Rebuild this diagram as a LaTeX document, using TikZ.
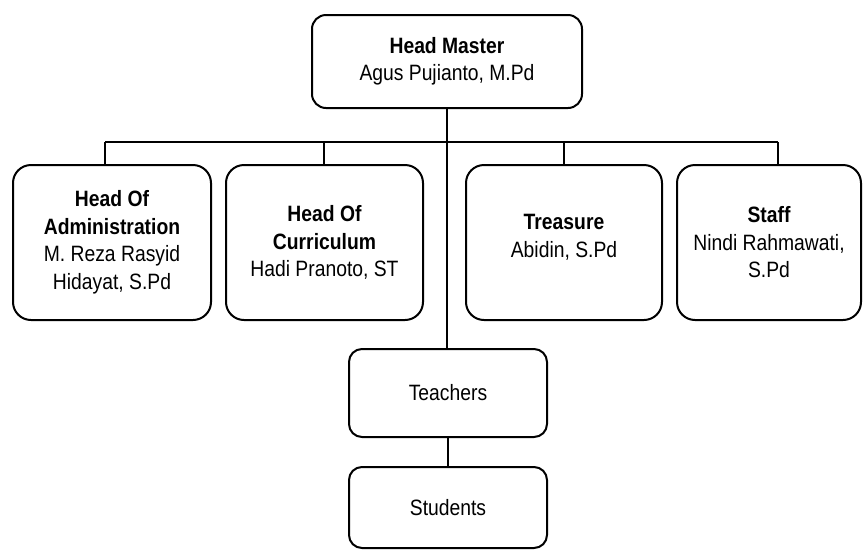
\documentclass[tikz,border=0pt]{standalone}
\usepackage{fontspec}
\setmainfont{Liberation Sans}[FakeStretch=0.87]
\begin{document}
\begin{tikzpicture}[x=1pt,y=-1pt,
  box/.style={draw=black, line width=2pt, rounded corners=#1, align=center, inner sep=0pt,
    font=\fontsize{22.2}{27.5}\selectfont},
  box/.default=18pt,
  conn/.style={draw=black, line width=2pt}]
\useasboundingbox (0,0) rectangle (863,550);
\node[box=14pt, minimum width=270pt, minimum height=93pt] (head) at (447,61.5)
  {\textbf{Head Master}\\Agus Pujianto, M.Pd};
\node[box, minimum width=198pt, minimum height=155pt] (adm) at (112,242.5)
  {\textbf{Head Of}\\\textbf{Administration}\\M. Reza Rasyid\\Hidayat, S.Pd};
\node[box, minimum width=197pt, minimum height=155pt] (cur) at (324.5,242.5)
  {\textbf{Head Of}\\\textbf{Curriculum}\\Hadi Pranoto, ST};
\node[box, minimum width=196pt, minimum height=155pt] (tre) at (564,242.5)
  {\textbf{Treasure}\\Abidin, S.Pd\\[-14.5pt]\mbox{}};
\node[box, minimum width=184pt, minimum height=155pt] (staff) at (769,242.5)
  {\textbf{Staff}\\Nindi Rahmawati,\\S.Pd};
\node[box=13pt, minimum width=198pt, minimum height=88pt] (teach) at (448,393)
  {Teachers};
\node[box=13pt, minimum width=198pt, minimum height=81pt] (stud) at (448,507.5)
  {Students};
\coordinate (b1) at (105,142);
\coordinate (b2) at (324,142);
\coordinate (b3) at (564,142);
\coordinate (b4) at (778,142);
\draw[conn] (b1) -- (b4);
\draw[conn] (head.south) -- (head.south |- teach.north);
\draw[conn] (b1) -- (b1 |- adm.north);
\draw[conn] (b2) -- (b2 |- cur.north);
\draw[conn] (b3) -- (b3 |- tre.north);
\draw[conn] (b4) -- (b4 |- staff.north);
\draw[conn] (teach.south) -- (stud.north);
\end{tikzpicture}
\end{document}
